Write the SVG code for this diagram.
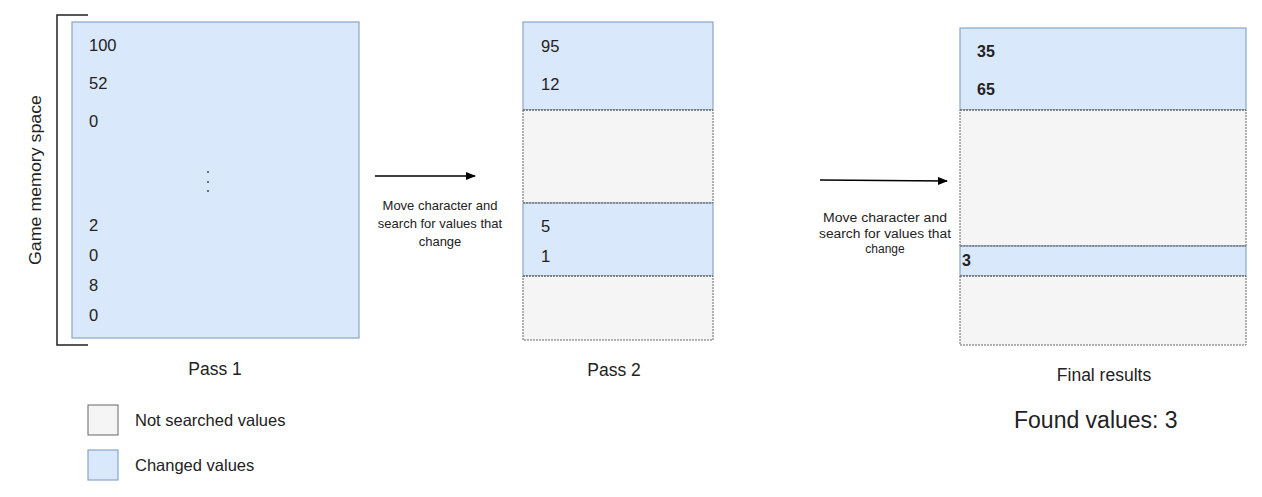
<svg xmlns="http://www.w3.org/2000/svg" width="1262" height="497" viewBox="0 0 1262 497">
<style>
text{font-family:"Liberation Sans",Arial,sans-serif;fill:#222}
.v{font-size:16.5px}
.b{font-size:16px;font-weight:bold}
.blue{fill:#dae8fc;stroke:#8aa6c8;stroke-width:1.2}
.grey{fill:#f5f5f5;stroke:#666;stroke-width:1;stroke-dasharray:2 1}
.dash{fill:none;stroke:#666;stroke-width:1.2;stroke-dasharray:2 1}
</style>
<defs><marker id="ah" markerWidth="10" markerHeight="8" refX="9" refY="4" orient="auto" markerUnits="userSpaceOnUse"><path d="M0,0 L10,4 L0,8 z" fill="#000"/></marker></defs>
<rect width="1262" height="497" fill="#fff"/>
<g id="pass1">
<path d="M88,15 H57 V345 H88" fill="none" stroke="#222" stroke-width="1.5"/>
<text transform="translate(41,180) rotate(-90)" text-anchor="middle" font-size="16.5" textLength="170" lengthAdjust="spacingAndGlyphs">Game memory space</text>
<rect x="72" y="22" width="287" height="316" class="blue"/>
<text x="89" y="51" class="v">100</text><text x="89" y="89" class="v">52</text><text x="89" y="127" class="v">0</text>
<circle cx="208" cy="172" r="1" fill="#444"/><circle cx="208" cy="182" r="1" fill="#444"/><circle cx="208" cy="191" r="1" fill="#444"/>
<text x="89" y="231" class="v">2</text><text x="89" y="261" class="v">0</text><text x="89" y="291" class="v">8</text><text x="89" y="321" class="v">0</text>
<text x="215" y="375" text-anchor="middle" font-size="17.5">Pass 1</text>
</g>
<g id="pass2">
<rect x="523" y="22" width="190" height="88" class="blue"/>
<rect x="523" y="110" width="190" height="93" class="grey"/>
<rect x="523" y="203" width="190" height="73" class="blue"/>
<rect x="523" y="276" width="190" height="64" class="grey"/>
<path d="M523,110 H713 M523,203 H713 M523,276 H713" class="dash"/>
<text x="541" y="52" class="v">95</text><text x="541" y="90" class="v">12</text>
<text x="541" y="232" class="v">5</text><text x="541" y="262" class="v">1</text>
<text x="614" y="376" text-anchor="middle" font-size="17.5">Pass 2</text>
</g>
<g id="final">
<rect x="960" y="28" width="286" height="82" class="blue"/>
<rect x="960" y="110" width="286" height="136" class="grey"/>
<rect x="960" y="246" width="286" height="30" class="blue"/>
<rect x="960" y="276" width="286" height="69" class="grey"/>
<path d="M960,110 H1246 M960,246 H1246 M960,276 H1246" class="dash"/>
<text x="977" y="57" class="b">35</text><text x="977" y="95" class="b">65</text><text x="962" y="266" class="b">3</text>
<text x="1104" y="381" text-anchor="middle" font-size="17.5">Final results</text>
<text x="1014" y="428" font-size="23">Found values: 3</text>
</g>
<g id="connectors">
<line x1="375" y1="176" x2="475" y2="176" stroke="#000" stroke-width="1.3" marker-end="url(#ah)"/>
<line x1="820" y1="180" x2="947" y2="181" stroke="#000" stroke-width="1.3" marker-end="url(#ah)"/>
<g font-size="13" text-anchor="middle" xml:space="preserve"><text x="440" y="210">Move character  and</text><text x="440" y="228">search for values that</text><text x="440" y="246">change</text></g>
<g font-size="12" text-anchor="middle" xml:space="preserve"><text x="885" y="222" textLength="124" lengthAdjust="spacingAndGlyphs">Move character  and</text><text x="885" y="238" textLength="132" lengthAdjust="spacingAndGlyphs">search for values that</text><text x="885" y="253">change</text></g>
</g>
<g id="legend">
<rect x="88" y="405" width="30" height="30" fill="#f5f5f5" stroke="#666"/>
<text x="135" y="426" font-size="16.5">Not searched values</text>
<rect x="88" y="450" width="30" height="30" class="blue"/>
<text x="135" y="471" font-size="16.5">Changed values</text>
</g>
</svg>
